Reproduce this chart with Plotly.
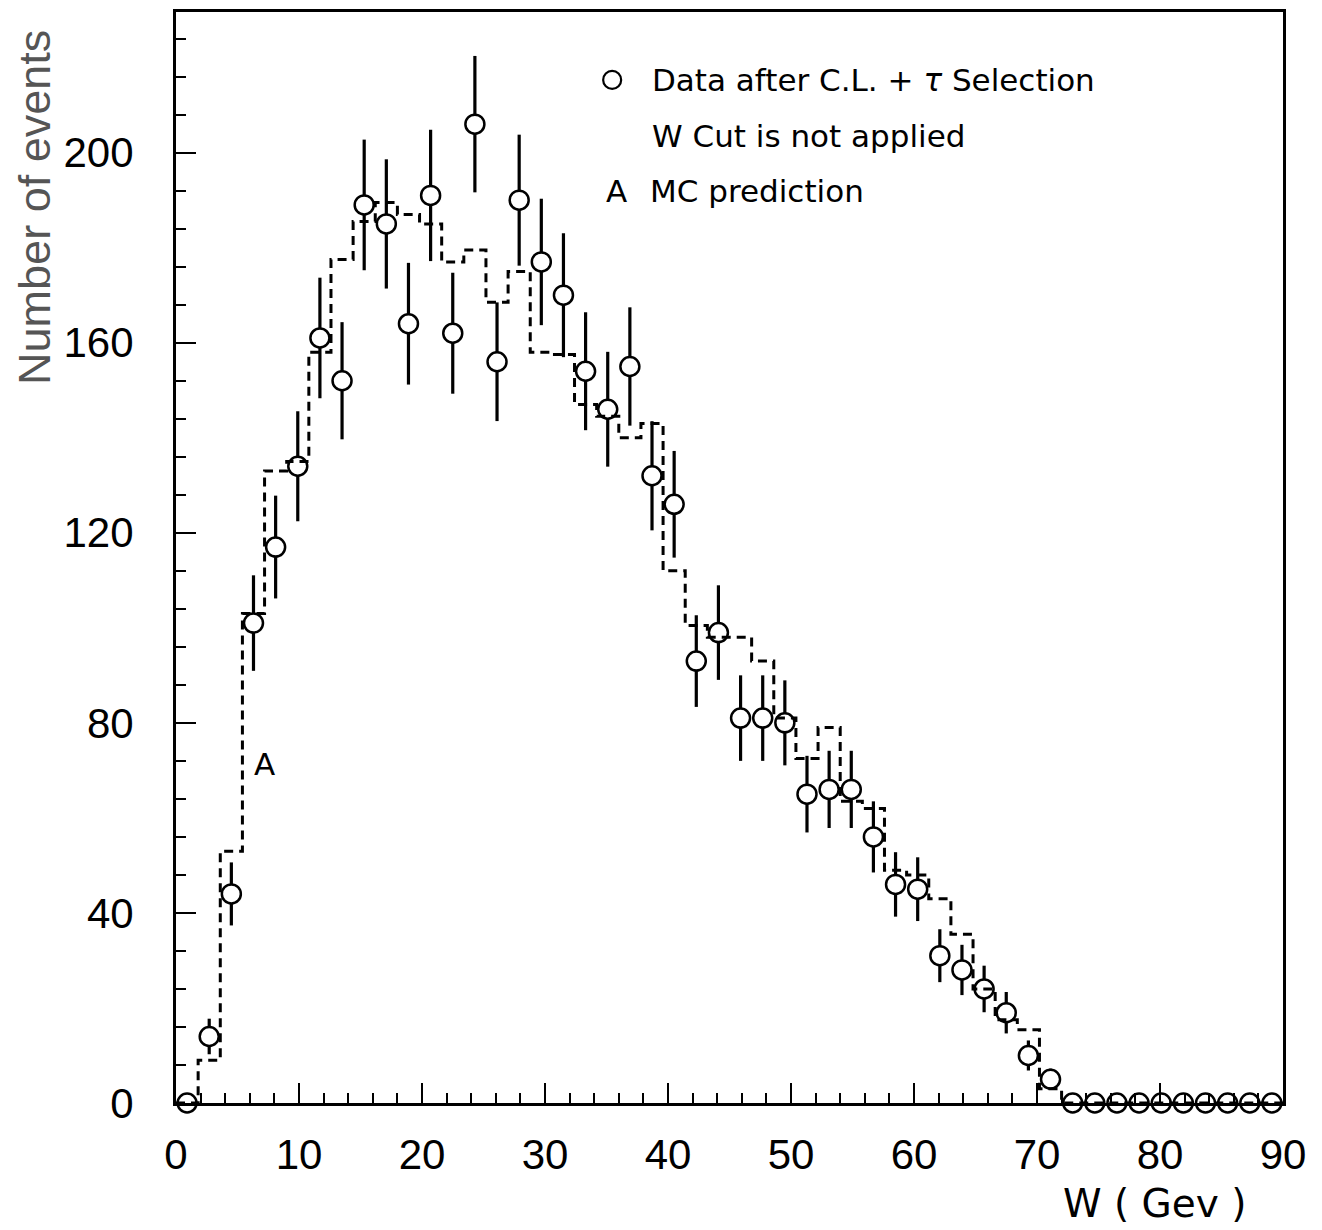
import numpy as np
import plotly.graph_objects as go

# ---- data ----
bin_width = 1.8
bin_edges = [round(i * bin_width, 2) for i in range(51)]          # 0 .. 90
bin_centers = [round(0.9 + i * bin_width, 2) for i in range(50)]   # 0.9 .. 89.1

data_counts = [0, 14, 44, 101, 117, 134, 161, 152, 189, 185,
               164, 191, 162, 206, 156, 190, 177, 170, 154, 146,
               155, 132, 126, 93, 99, 81, 81, 80, 65, 66,
               66, 56, 46, 45, 31, 28, 24, 19, 10, 5,
               0, 0, 0, 0, 0, 0, 0, 0, 0, 0]

mc_counts = [0, 9, 53, 103, 133, 135, 158, 177.5, 185.5, 189.5,
             187, 185, 177, 179.5, 168.5, 175, 158, 157.5, 147, 144.5,
             140, 143, 112, 100.5, 98, 98, 93, 81, 72.5, 79,
             63.5, 62, 49, 48, 43, 35.5, 24, 17.5, 15.4, 3,
             0, 0, 0, 0, 0, 0, 0, 0, 0, 0]

x_ticks = [0, 10, 20, 30, 40, 50, 60, 70, 80, 90]
y_ticks = [0, 40, 80, 120, 160, 200]

data_err = [float(np.sqrt(v)) for v in data_counts]

fig = go.Figure()

# data points with sqrt(N) errors
fig.add_trace(go.Scatter(
    x=bin_centers, y=data_counts,
    mode="markers",
    marker=dict(symbol="circle", size=19, color="white",
                line=dict(color="black", width=2.5)),
    error_y=dict(type="data", array=data_err, visible=True,
                 thickness=3.2, width=0, color="black"),
    cliponaxis=False,
    showlegend=False,
))

# MC prediction histogram (dashed step line)
mc_x = bin_edges
mc_y = mc_counts + [mc_counts[-1]]
fig.add_trace(go.Scatter(
    x=mc_x, y=mc_y,
    mode="lines",
    line=dict(shape="hv", color="black", width=3, dash="9px,6px"),
    showlegend=False,
))

legend_font = dict(family="DejaVu Sans", size=31, color="black")

annotations = [
    dict(x=38.55, y=215.3, xref="x", yref="y", xanchor="left", yanchor="middle",
         text="Data after C.L. + <i>τ</i> Selection", showarrow=False, font=legend_font),
    dict(x=38.55, y=203.6, xref="x", yref="y", xanchor="left", yanchor="middle",
         text="W Cut is not applied", showarrow=False, font=legend_font),
    dict(x=34.8, y=192.0, xref="x", yref="y", xanchor="left", yanchor="middle",
         text="A", showarrow=False, font=legend_font),
    dict(x=38.4, y=192.0, xref="x", yref="y", xanchor="left", yanchor="middle",
         text="MC prediction", showarrow=False, font=legend_font),
    dict(x=6.2, y=71.4, xref="x", yref="y", xanchor="left", yanchor="middle",
         text="A", showarrow=False, font=legend_font),
    # axis titles
    dict(x=-0.1277, y=0.821, xref="paper", yref="paper", xanchor="center", yanchor="middle",
         text="Number of events", textangle=-90, showarrow=False,
         font=dict(family="Liberation Sans", size=45, color="#555555")),
    dict(x=0.968, y=-0.092, xref="paper", yref="paper", xanchor="right", yanchor="middle",
         text="W ( Gev )", showarrow=False,
         font=dict(family="DejaVu Sans", size=39, color="black")),
]

shapes = [
    dict(type="circle", xref="x", yref="y", xsizemode="pixel", ysizemode="pixel",
         xanchor=35.46, yanchor=215.3, x0=-9, x1=9, y0=-9, y1=9,
         line=dict(color="black", width=2.2), fillcolor="white"),
]

# page body has an 8px margin, so the figure is sized to fit the window
fig.update_layout(
    width=1314, height=1222,
    margin=dict(l=167.5, r=38.7, t=1, b=127.3, pad=0),
    paper_bgcolor="white", plot_bgcolor="white",
    annotations=annotations,
    shapes=shapes,
    font=dict(family="Liberation Sans", color="black"),
)

fig.update_xaxes(
    range=[0, 90], tickmode="array", tickvals=x_ticks,
    ticktext=[str(v) for v in x_ticks],
    ticks="inside", ticklen=20, tickwidth=2, tickcolor="black",
    minor=dict(dtick=2, tick0=0, ticks="inside", ticklen=10, tickwidth=2, tickcolor="black"),
    showline=True, linecolor="black", linewidth=3, mirror=True,
    showgrid=False, zeroline=False,
    tickfont=dict(family="Liberation Sans", size=42, color="black"),
    ticklabelstandoff=13,
)
fig.update_yaxes(
    range=[0, 229.6], tickmode="array", tickvals=y_ticks,
    ticktext=[str(v) for v in y_ticks],
    ticks="inside", ticklen=20, tickwidth=2, tickcolor="black",
    minor=dict(dtick=8, tick0=0, ticks="inside", ticklen=10, tickwidth=2, tickcolor="black"),
    showline=True, linecolor="black", linewidth=3, mirror=True,
    showgrid=False, zeroline=False,
    tickfont=dict(family="Liberation Sans", size=42, color="black"),
    ticklabelstandoff=31,
)

fig.write_html("out.html")
